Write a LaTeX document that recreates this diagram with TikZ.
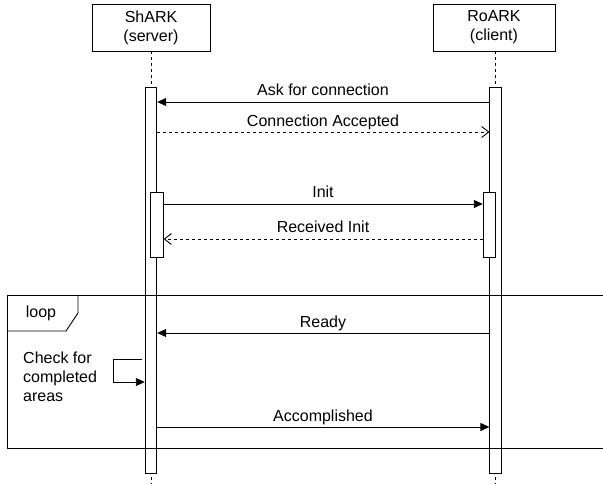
\documentclass[tikz,border=0pt]{standalone}
\usepackage{fontspec}
\setmainfont{Liberation Sans}
\usetikzlibrary{arrows.meta}
\begin{document}
\begin{tikzpicture}[x=1pt,y=-1pt,
  every node/.style={font=\fontsize{16}{19.2}\selectfont, inner sep=0pt},
  actor/.style={draw, line width=0.9pt, fill=white, align=center, minimum height=47pt},
  lifeline/.style={line width=0.9pt, dash pattern=on 3pt off 3pt},
  activation/.style={draw, line width=0.9pt, fill=white, minimum width=11.5pt},
  msg/.style={line width=0.9pt, -{Triangle[length=9pt,width=8pt]}},
  reply/.style={line width=0.9pt, dash pattern=on 3pt off 3pt, -{Straight Barb[length=7pt,width=11pt]}},
  frame/.style={line width=0.9pt},
  lbl/.style={anchor=base}]
\useasboundingbox (0,0) rectangle (603,484);

% participants
\node[actor, minimum width=118pt] (srv) at (151,27.5) {ShARK\\(server)};
\node[actor, minimum width=122pt] (cli) at (494,27.5) {RoARK\\(client)};

% lifelines
\coordinate (srvend) at (151,484);
\coordinate (cliend) at (495.6,484);
\draw[lifeline] (srv.south -| srvend) -- (srvend);
\draw[lifeline] (cli.south -| cliend) -- (cliend);

% activation bars
\node[activation, minimum height=386pt] (sbar) at (151,280) {};
\node[activation, minimum height=386pt] (cbar) at (495.6,280) {};
\node[activation, minimum width=12.5pt, minimum height=65pt] (sinit) at (157,224.5) {};
\node[activation, minimum width=12.5pt, minimum height=65pt] (cinit) at (489.5,224.5) {};

% loop combined fragment
\draw[frame] (603,295) -- (7,295) -- (7,448) -- (603,448);
\draw[frame] (7,331) -- (66,331) -- (78,313) -- (78,295);
\node (looplbl) at (41,313) {loop};

% messages
\draw[msg] (cbar.west |- 0,102) -- (sbar.east |- 0,102);
\node[lbl] (l1) at (323,96) {Ask for connection};

\draw[reply] (sbar.east |- 0,132) -- (cbar.west |- 0,132);
\node[lbl] (l2) at (323,126.5) {Connection Accepted};

\draw[msg] (sinit.east |- 0,204) -- (cinit.west |- 0,204);
\node[lbl] (l3) at (323,198) {Init};

\draw[reply] (cinit.west |- 0,239) -- (sinit.east |- 0,239);
\node[lbl] (l4) at (323,233) {Received Init};

\draw[msg] (cbar.west |- 0,333) -- (sbar.east |- 0,333);
\node[lbl] (l5) at (323,327) {Ready};

% self message
\coordinate (selfa) at (113,359);
\coordinate (selfb) at (113,382);
\draw[msg] ([xshift=-3pt]sbar.west |- 0,359) -- (selfa) -- (selfb) -- (sbar.west |- selfb);
\node[anchor=west, align=left] (chk) at (23,377) {Check for\\completed\\areas};

\draw[msg] (sbar.east |- 0,427) -- (cbar.west |- 0,427);
\node[lbl] (l6) at (323,421) {Accomplished};
\end{tikzpicture}
\end{document}
